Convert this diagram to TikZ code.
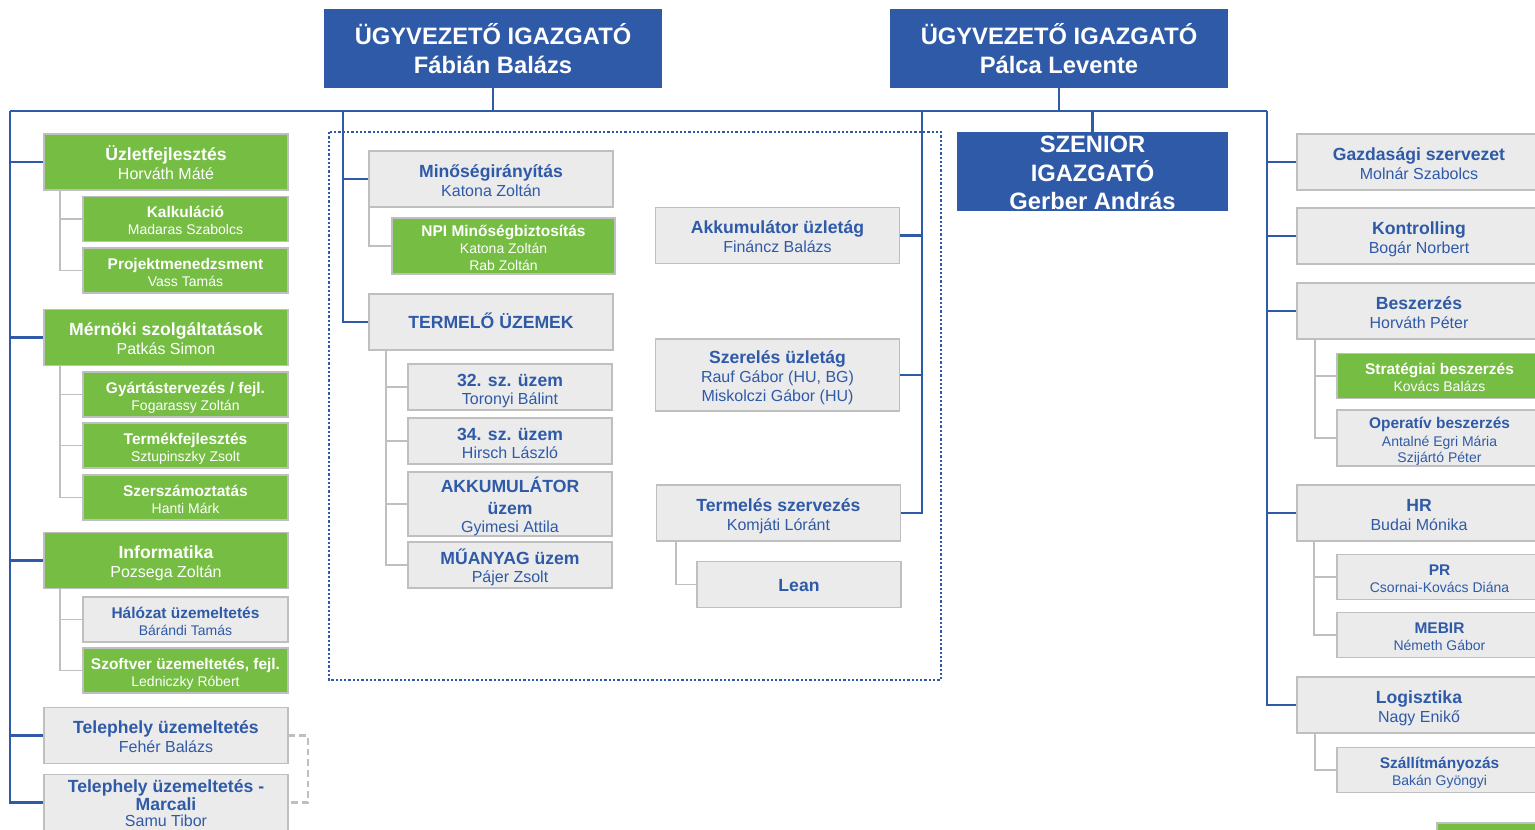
\documentclass[tikz,border=0pt]{standalone}
\usepackage{fontspec}
\setmainfont{Liberation Sans}
\definecolor{orgblue}{RGB}{47,90,168}
\definecolor{orggreen}{RGB}{118,189,67}
\definecolor{boxgray}{RGB}{235,235,235}
\definecolor{rimgray}{RGB}{191,191,191}
\newcommand\bigt{\fontsize{17.8}{21.75}\selectfont\bfseries}
\newcommand\mt[1]{{\fontsize{13.2}{14.2}\selectfont\bfseries #1}}
\newcommand\st[1]{{\fontsize{11.6}{13.1}\selectfont\bfseries #1}}
\begin{document}
\begin{tikzpicture}[x=0.75pt,y=-0.75pt,
	every node/.style={inner sep=0pt,align=center,text depth=0pt},
	chief/.style={fill=orgblue,text=white,font=\bigt,minimum height=59.25pt,text height=37.5pt},
	grn/.style={fill=orggreen,draw=rimgray,line width=1.1pt,text=white},
	gry/.style={fill=boxgray,draw=rimgray,line width=1.1pt,text=orgblue},
	unit/.style={minimum width=183pt,minimum height=42pt,font=\fontsize{12}{14.2}\selectfont,text height=25.9pt},
	subunit/.style={minimum width=153.75pt,minimum height=34pt,font=\fontsize{10.5}{13.1}\selectfont,text height=23.95pt},
	plant/.style={minimum width=153pt,minimum height=34.5pt,font=\fontsize{12}{13.8}\selectfont,text height=26.3pt},
	trunk/.style={draw=orgblue,line width=2pt},
	twig/.style={draw=rimgray,line width=1.3pt},
	linkdash/.style={draw=rimgray,line width=1.6pt,dash pattern=on 5pt off 3pt}]
\useasboundingbox (0,0) rectangle (1535,829);
\clip (0,0) rectangle (1535,829);
% frame of the production units
\draw[orgblue,line width=2pt,dash pattern=on 1.7pt off 1.5pt] (329,132) rectangle (941,680);
% management
\node[chief,minimum width=253.5pt] (ceofb) at (493,48.5) {ÜGYVEZETŐ IGAZGATÓ\\Fábián Balázs};
\node[chief,minimum width=253.5pt] (ceopl) at (1059,48.5) {ÜGYVEZETŐ IGAZGATÓ\\Pálca Levente};
\node[chief,minimum width=203.25pt,font=\fontsize{17.8}{21.4}\selectfont\bfseries,text height=57.1pt] (senior) at (1092.5,171.5) {SZENIOR\\IGAZGATÓ\\Gerber András};
% left column
\node[grn,unit] (uzlet) at (166,162) {\mt{Üzletfejlesztés}\\Horváth Máté};
\node[grn,subunit] (kalk) at (185.5,219) {\st{Kalkuláció}\\Madaras Szabolcs};
\node[grn,subunit] (proj) at (185.5,270.5) {\st{Projektmenedzsment}\\Vass Tamás};
\node[grn,unit] (merno) at (166,337.5) {\mt{Mérnöki szolgáltatások}\\Patkás Simon};
\node[grn,subunit] (gyart) at (185.5,394.5) {\st{Gyártástervezés / fejl.}\\Fogarassy Zoltán};
\node[grn,subunit] (termek) at (185.5,445.5) {\st{Termékfejlesztés}\\Sztupinszky Zsolt};
\node[grn,subunit] (szersz) at (185.5,497.5) {\st{Szerszámoztatás}\\Hanti Márk};
\node[grn,unit] (info) at (166,560.5) {\mt{Informatika}\\Pozsega Zoltán};
\node[gry,subunit] (halo) at (185.5,619.5) {\st{Hálózat üzemeltetés}\\Bárándi Tamás};
\node[grn,subunit] (szoft) at (185.5,670.5) {\st{Szoftver üzemeltetés, fejl.}\\Ledniczky Róbert};
\node[gry,unit] (teleph) at (166,735.5) {\mt{Telephely üzemeltetés}\\Fehér Balázs};
\node[gry,unit,font=\fontsize{12}{12}\selectfont,text height=35.6pt] (marcali) at (166,802.5) {\mt{Telephely üzemeltetés -}\\\mt{Marcali}\\Samu Tibor};
% middle
\node[gry,unit] (minoseg) at (491,179) {\mt{Minőségirányítás}\\Katona Zoltán};
\node[grn,subunit,minimum width=167.25pt,minimum height=42pt,font=\fontsize{10.5}{12.6}\selectfont,text height=36.15pt] (npi) at (503.5,246) {\st{NPI Minőségbiztosítás}\\Katona Zoltán\\Rab Zoltán};
\node[gry,unit,text height=9.45pt] (termelo) at (491,322) {\mt{TERMELŐ ÜZEMEK}};
\node[gry,plant] (u32) at (510,387) {\mt{32. sz. üzem}\\Toronyi Bálint};
\node[gry,plant] (u34) at (510,441) {\mt{34. sz. üzem}\\Hirsch László};
\node[gry,plant,minimum height=48pt,text height=42.6pt] (akku) at (510,504) {\mt{AKKUMULÁTOR}\\[2.7pt]\mt{üzem}\\Gyimesi Attila};
\node[gry,plant] (muanyag) at (510,565) {\mt{MŰANYAG üzem}\\Pájer Zsolt};
\node[gry,unit] (akkuzl) at (777.5,235.5) {\mt{Akkumulátor üzletág}\\Fináncz Balázs};
\node[gry,unit,minimum height=54pt,font=\fontsize{12}{14.3}\selectfont,text height=40.1pt] (szerel) at (777.5,375) {\mt{Szerelés üzletág}\\Rauf Gábor (HU, BG)\\Miskolczi Gábor (HU)};
\node[gry,unit] (termsz) at (778.5,513) {\mt{Termelés szervezés}\\Komjáti Lóránt};
\node[gry,plant,text height=10.2pt] (lean) at (799,584.5) {\mt{Lean}};
% right column
\node[gry,unit] (gazd) at (1419,162) {\mt{Gazdasági szervezet}\\Molnár Szabolcs};
\node[gry,unit] (kontr) at (1419,236) {\mt{Kontrolling}\\Bogár Norbert};
\node[gry,unit] (besz) at (1419,311) {\mt{Beszerzés}\\Horváth Péter};
\node[grn,subunit] (strat) at (1439.5,376) {\st{Stratégiai beszerzés}\\Kovács Balázs};
\node[gry,subunit,minimum height=42pt,font=\fontsize{10.5}{12}\selectfont,text height=36.4pt] (operativ) at (1439.5,438) {\st{Operatív beszerzés}\\[1.6pt]Antalné Egri Mária\\Szijártó Péter};
\node[gry,unit] (hr) at (1419,513) {\mt{HR}\\Budai Mónika};
\node[gry,subunit] (pr) at (1439.5,577) {\st{PR}\\Csornai-Kovács Diána};
\node[gry,subunit] (mebir) at (1439.5,635) {\st{MEBIR}\\Németh Gábor};
\node[gry,unit] (logi) at (1419,705) {\mt{Logisztika}\\Nagy Enikő};
\node[gry,subunit] (szall) at (1439.5,770) {\st{Szállítmányozás}\\Bakán Gyöngyi};
\draw[fill=orggreen,draw=rimgray,line width=1.1pt] (1437,823) rectangle (1642,869);
% blue connectors
\coordinate (topl) at (10,111);
\coordinate (topr) at (1267,111);
\coordinate (topq) at (343,111);
\coordinate (topb) at (922,111);
\draw[trunk] (topl) -- (topr);
\draw[trunk] (ceofb.south) -- (ceofb.south |- topl);
\draw[trunk] (ceopl.south) -- (ceopl.south |- topl);
\draw[trunk] (senior.north) -- (senior.north |- topl);
\draw[trunk] (topl) |- (marcali.west);
\foreach \n in {uzlet,merno,info,teleph}
	\draw[trunk] (topl |- \n.west) -- (\n.west);
\draw[trunk] (topq) |- (termelo.west);
\draw[trunk] (topq |- minoseg.west) -- (minoseg.west);
\draw[trunk] (topb) |- (termsz.east);
\foreach \n in {akkuzl,szerel}
	\draw[trunk] (topb |- \n.east) -- (\n.east);
\draw[trunk] (topr) |- (logi.west);
\foreach \n in {gazd,kontr,besz,hr}
	\draw[trunk] (topr |- \n.west) -- (\n.west);
% grey connectors
\foreach \p/\c/\d in {uzlet/kalk/17,uzlet/proj/17,merno/gyart/17,merno/termek/17,merno/szersz/17,
	info/halo/17,info/szoft/17,minoseg/npi/1,termelo/u32/18,termelo/u34/18,termelo/akku/18,
	termelo/muanyag/18,termsz/lean/20,besz/strat/19,besz/operativ/19,hr/pr/18,hr/mebir/18,logi/szall/19}
	\draw[twig] (\p.south west) ++(\d,0) |- (\c.west);
\draw[linkdash] (teleph.east) -- ++(19,0) |- (marcali.east);
\end{tikzpicture}
\end{document}
